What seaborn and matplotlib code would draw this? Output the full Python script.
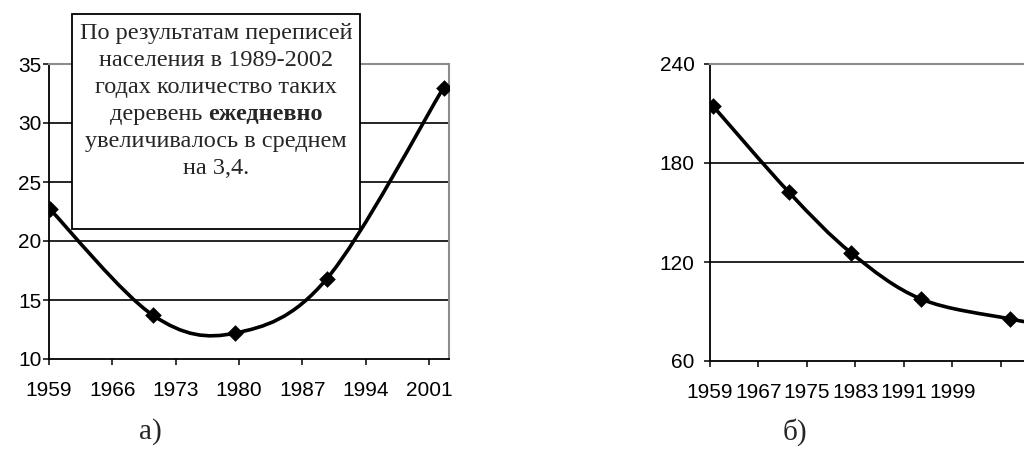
import numpy as np
import pandas as pd
import matplotlib
matplotlib.use("Agg")
import matplotlib.pyplot as plt
import seaborn as sns
from matplotlib.path import Path
from matplotlib.patches import PathPatch, Rectangle

# --- data (x in axis units) ---
years_a = [1959.1, 1970.5, 1979.6, 1989.7, 2002.6]
values_a = [22.7, 13.7, 12.2, 16.8, 33.0]
ticks_a = [1959, 1966, 1973, 1980, 1987, 1994, 2001]
yticks_a = [10, 15, 20, 25, 30, 35]

years_b = [1959.5, 1972.0, 1982.3, 1993.8, 2008.5, 2017.5]
values_b = [214.5, 162.4, 125.5, 97.6, 85.5, 80.0]
ticks_b = [1959, 1967, 1975, 1983, 1991, 1999, 2007]
tick_labels_b = ["1959", "1967", "1975", "1983", "1991", "1999", ""]
yticks_b = [60, 120, 180, 240]

note_lines = [
    "По результатам переписей",
    "населения в 1989-2002",
    "годах количество таких",
    ("деревень ", "ежедневно"),
    "увеличивалось в среднем",
    "на 3,4.",
]

sns.set_style("white")
plt.rcParams["font.family"] = ["Liberation Sans", "DejaVu Sans"]

W, H = 1024, 455
fig = plt.figure(figsize=(W / 100, H / 100), dpi=100)


def smooth_path(xs, ys):
    # Excel-like smoothed line: Catmull-Rom segments as cubic Bezier
    pts = np.column_stack([xs, ys]).astype(float)
    n = len(pts)
    verts = [pts[0]]
    codes = [Path.MOVETO]
    for i in range(n - 1):
        p0 = pts[max(i - 1, 0)]
        p1 = pts[i]
        p2 = pts[i + 1]
        p3 = pts[min(i + 2, n - 1)]
        verts += [p1 + (p2 - p0) / 6, p2 - (p3 - p1) / 6, p2]
        codes += [Path.CURVE4] * 3
    return Path(verts, codes)


def draw_panel(ax, xs, ys, xlim, ylim, xticks, xlabels, yticks, ypad):
    df = pd.DataFrame({"year": xs, "value": ys})
    ax.add_patch(PathPatch(smooth_path(xs, ys), fill=False, edgecolor="black",
                           lw=2.6, capstyle="round", zorder=3))
    sns.scatterplot(data=df, x="year", y="value", ax=ax, marker="D", s=72,
                    color="black", edgecolor="black", linewidth=0, zorder=4,
                    legend=False)
    ax.set_xlim(*xlim)
    ax.set_ylim(*ylim)
    ax.set_xticks(xticks)
    ax.set_xticklabels(xlabels)
    ax.set_yticks(yticks)
    ax.set_xlabel("")
    ax.set_ylabel("")
    ax.grid(axis="y", color="black", lw=1.2)
    gl = ax.yaxis.get_gridlines()
    gl[0].set_visible(False)
    gl[-1].set_visible(False)
    ax.tick_params(axis="both", direction="out", length=4, width=1.1,
                   colors="black", labelsize=15, bottom=True, left=True)
    ax.tick_params(axis="x", pad=12)
    ax.tick_params(axis="y", pad=ypad)
    for side in ["left", "bottom"]:
        ax.spines[side].set_color("black")
        ax.spines[side].set_linewidth(1.3)
    for side in ["top", "right"]:
        ax.spines[side].set_color("#8c8c8c")
        ax.spines[side].set_linewidth(1.5)


ax1 = fig.add_axes([49 / W, (H - 359) / H, 400 / W, 295 / H])
draw_panel(ax1, years_a, values_a, (1959, 2003.2), (10, 35),
           ticks_a, [str(t) for t in ticks_a], yticks_a, 1.5)

ax2 = fig.add_axes([710 / W, (H - 361) / H, (2020 - 1959) * 6.06 / W, 297 / H])
draw_panel(ax2, years_b, values_b, (1959, 2020), (60, 240),
           ticks_b, tick_labels_b, yticks_b, 7)

# note box over the left chart
fig.patches.append(Rectangle((72 / W, (H - 229) / H), 288 / W, 215 / H,
                             transform=fig.transFigure, facecolor="white",
                             edgecolor="black", lw=1.3, zorder=5))

serif = ["Liberation Serif", "DejaVu Serif"]
fsize = 17.5
cx = 216 / W
renderer = fig.canvas.get_renderer()
for i, line in enumerate(note_lines):
    y = (H - (33 + 27.2 * i)) / H
    if isinstance(line, tuple):
        t1 = fig.text(0, y, line[0], family=serif, fontsize=fsize,
                      va="center", ha="left", zorder=6)
        t2 = fig.text(0, y, line[1], family=serif, fontsize=fsize,
                      weight="bold", va="center", ha="left", zorder=6)
        w1 = t1.get_window_extent(renderer).width / W
        w2 = t2.get_window_extent(renderer).width / W
        x0 = cx - (w1 + w2) / 2
        t1.set_x(x0)
        t2.set_x(x0 + w1)
    else:
        fig.text(cx, y, line, family=serif, fontsize=fsize, va="center",
                 ha="center", zorder=6)

fig.text(150 / W, (H - 432) / H, "а)", family=serif, fontsize=21,
         ha="center", va="center")
fig.text(795 / W, (H - 432) / H, "б)", family=serif, fontsize=21,
         ha="center", va="center")

fig.savefig("out.png", dpi=100, facecolor="white")
